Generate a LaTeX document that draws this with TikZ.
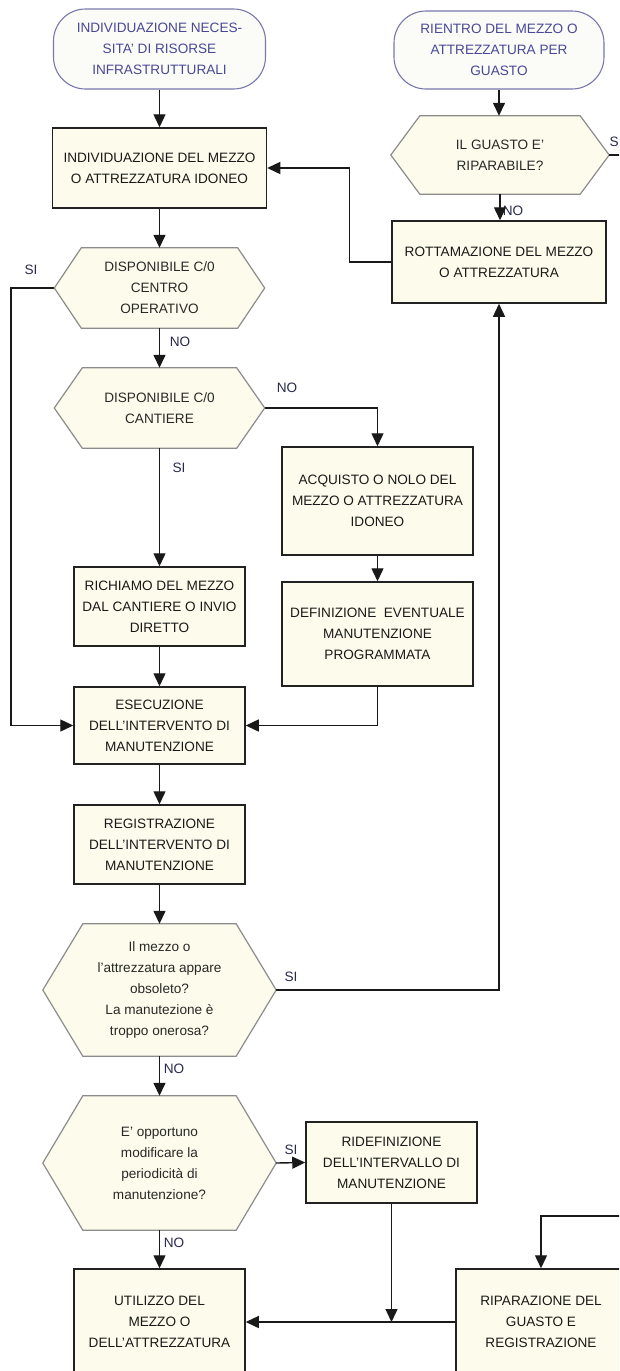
\documentclass[tikz,border=0pt]{standalone}
\usepackage{fontspec}
\setmainfont{Liberation Sans}
\usetikzlibrary{arrows.meta,backgrounds}

\definecolor{termline}{RGB}{120,120,172}
\definecolor{termfill}{RGB}{251,251,247}
\definecolor{termtext}{RGB}{72,72,150}
\definecolor{cream}{RGB}{253,252,236}
\definecolor{boxline}{RGB}{34,34,34}
\definecolor{boxtext}{RGB}{25,25,25}
\definecolor{hexgrey}{RGB}{140,140,140}
\definecolor{hextext}{RGB}{40,40,40}
\definecolor{linecol}{RGB}{25,25,25}
\definecolor{flagtext}{RGB}{42,42,78}

% hexagonal decision outline around a named (invisible) node
\newcommand{\hexoutline}[2]{%
  \path[hexline] (#1.west) -- ([xshift=#2]#1.north west) -- ([xshift=-#2]#1.north east)
    -- (#1.east) -- ([xshift=-#2]#1.south east) -- ([xshift=#2]#1.south west) -- cycle;}

\begin{document}
\begin{tikzpicture}[x=1pt,y=-1pt,
  every node/.style={font=\fontsize{13.6}{21}\selectfont, align=center, inner sep=0pt},
  terminal/.style={draw=termline, fill=termfill, text=termtext, line width=1.1pt, rounded corners=32pt},
  procbox/.style={draw=boxline, fill=cream, text=boxtext, line width=1.5pt},
  hexnode/.style={text=hextext},
  hexline/.style={draw=hexgrey, fill=cream, line width=1.2pt, line join=miter},
  conn/.style={draw=linecol, line width=1.4pt},
  arrow/.style={conn, -{Triangle[width=12pt,length=13pt]}},
  flag/.style={text=flagtext}
]
\useasboundingbox (0,0) rectangle (619,1371);
\clip (0,0) rectangle (619,1371);

% ---- start points
\node[terminal, minimum width=212pt, minimum height=80pt] (t1) at (159.5,49)
  {INDIVIDUAZIONE NECES-\\SITA' DI RISORSE\\INFRASTRUTTURALI};
\node[terminal, minimum width=210pt, minimum height=78pt] (t2) at (499,50)
  {RIENTRO DEL MEZZO O\\ATTREZZATURA PER\\GUASTO};

% ---- left column
\node[procbox, minimum width=214pt, minimum height=80pt] (b1) at (159.5,168)
  {INDIVIDUAZIONE DEL MEZZO\\O ATTREZZATURA IDONEO};
\node[hexnode, minimum width=210pt, minimum height=80pt] (h1) at (159.5,288)
  {DISPONIBILE C/0\\CENTRO\\OPERATIVO};
\node[hexnode, minimum width=210pt, minimum height=80pt] (h2) at (159.5,408)
  {DISPONIBILE C/0\\CANTIERE};
\node[procbox, minimum width=171pt, minimum height=79pt] (ric) at (159.5,606.5)
  {RICHIAMO DEL MEZZO\\DAL CANTIERE O INVIO\\DIRETTO};
\node[procbox, minimum width=171pt, minimum height=77pt] (ese) at (159.5,725.5)
  {ESECUZIONE\\DELL'INTERVENTO DI\\MANUTENZIONE};
\node[procbox, minimum width=171pt, minimum height=79pt] (reg) at (159.5,844.5)
  {REGISTRAZIONE\\DELL'INTERVENTO DI\\MANUTENZIONE};
\node[hexnode, minimum width=233pt, minimum height=132pt] (h3) at (159.5,990)
  {Il mezzo o\\l'attrezzatura appare\\obsoleto?\\La manutezione è\\troppo onerosa?};
\node[hexnode, minimum width=233pt, minimum height=134pt] (h4) at (159.5,1163)
  {E' opportuno\\modificare la\\periodicità di\\manutenzione?};
\node[procbox, minimum width=171pt, minimum height=106pt] (uti) at (159.5,1322)
  {UTILIZZO DEL\\MEZZO O\\DELL'ATTREZZATURA};

% ---- right column
\node[hexnode, minimum width=218pt, minimum height=78pt] (hr) at (500,155)
  {IL GUASTO E'\\RIPARABILE?};
\node[procbox, minimum width=214pt, minimum height=82pt] (rot) at (499,262)
  {ROTTAMAZIONE DEL MEZZO\\O ATTREZZATURA};
\node[procbox, minimum width=191pt, minimum height=108pt] (acq) at (377.5,501)
  {ACQUISTO O NOLO DEL\\MEZZO O ATTREZZATURA\\IDONEO};
\node[procbox, minimum width=191pt, minimum height=104pt] (def) at (377.5,634)
  {DEFINIZIONE\ \ EVENTUALE\\MANUTENZIONE\\PROGRAMMATA};
\node[procbox, minimum width=171pt, minimum height=81pt] (rid) at (391.5,1162.5)
  {RIDEFINIZIONE\\DELL'INTERVALLO DI\\MANUTENZIONE};
\node[procbox, minimum width=170pt, minimum height=106pt] (rip) at (541,1322)
  {RIPARAZIONE DEL\\GUASTO E\\REGISTRAZIONE};

% ---- decision outlines and page background
\begin{scope}[on background layer]
  \fill[white] (0,0) rectangle (619,1371);
  \hexoutline{h1}{27pt}
  \hexoutline{h2}{28pt}
  \hexoutline{h3}{40pt}
  \hexoutline{h4}{40pt}
  \hexoutline{hr}{29pt}
\end{scope}

% ---- branch labels
\node[flag] (siA) at (31,270) {SI};
\node[flag] (noA) at (180,342) {NO};
\node[flag] (noB) at (287,388) {NO};
\node[flag] (siB) at (179,468) {SI};
\node[flag] (noC) at (513,211) {NO};
\node[flag, anchor=east] (siC) at (619,142) {S};
\node[flag] (siD) at (291,977) {SI};
\node[flag] (noD) at (174,1069) {NO};
\node[flag] (siE) at (291,1150) {SI};
\node[flag] (noE) at (174,1243) {NO};

% ---- free ends leaving the sheet
\coordinate (exitR) at (640,155);
\coordinate (loopIn) at (640,1216);
\coordinate (railL) at (11,288);

% ---- connectors
\draw[arrow] (t1) -- (b1);
\draw[arrow] (b1) -- (h1);
\draw[arrow] (h1) -- (h2);
\draw[arrow] (h1.west) -- (railL) |- (ese.west);
\draw[arrow] (h2.east) -| (acq.north);
\draw[arrow] (h2) -- (ric);
\draw[arrow] (acq) -- (def);
\draw[arrow] (ric) -- (ese);
\draw[arrow] (def.south) |- (ese.east);
\draw[arrow] (ese) -- (reg);
\draw[arrow] (reg) -- (h3);
\draw[arrow] (h3.east) -| (rot.south);
\draw[arrow] (h3) -- (h4);
\draw[arrow] (h4.east) -- (rid.west);
\draw[arrow] (h4) -- (uti);
\draw[arrow] (rid.south) -- (rid.south |- uti.east);
\draw[arrow] (rip.west) -- (uti.east);
\draw[arrow] (loopIn) -| (rip.north);
\draw[arrow] (t2.south) -- (t2.south |- hr.north);
\draw[arrow] (hr.south) -- (hr.south |- rot.north);
\draw[arrow] (rot.west) -- ++(-42,0) |- (b1.east);
\draw[conn] (hr.east) -- (exitR);
\end{tikzpicture}
\end{document}
